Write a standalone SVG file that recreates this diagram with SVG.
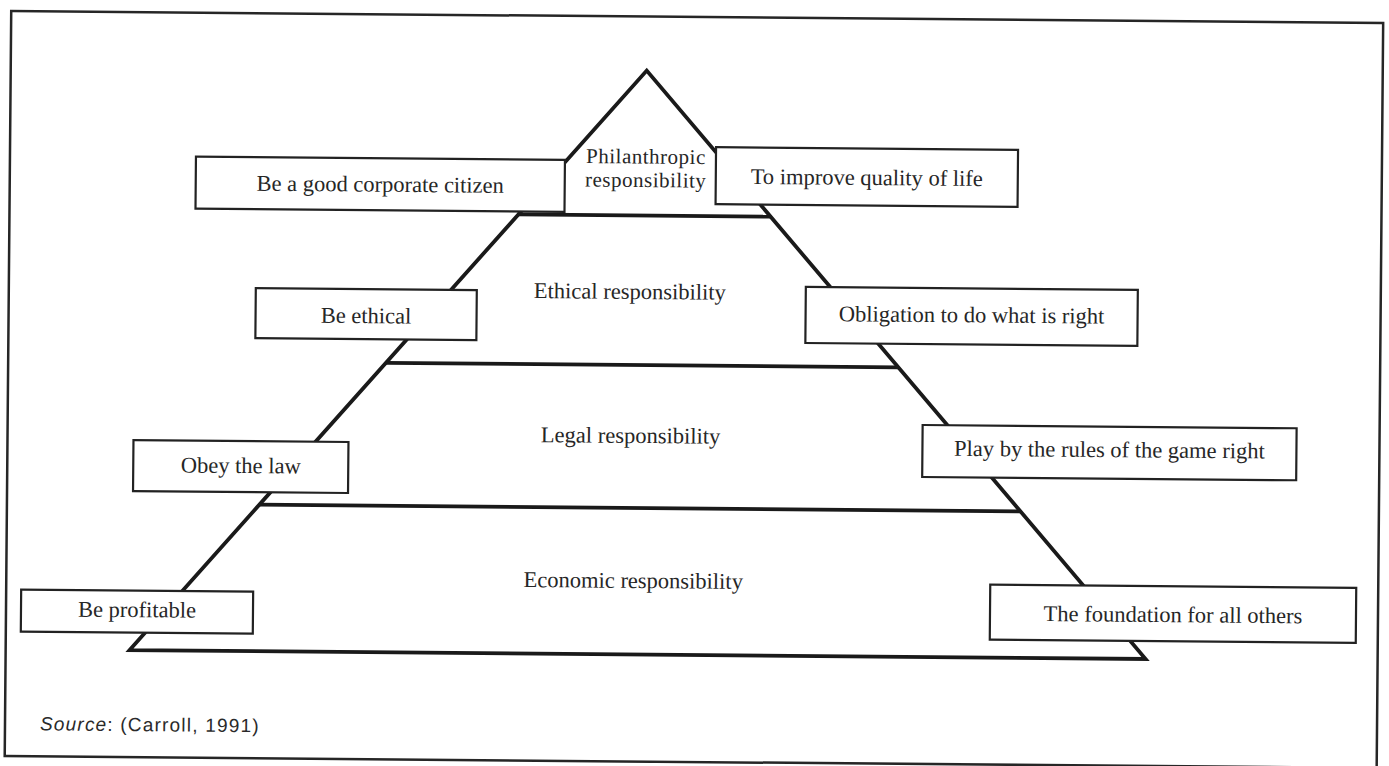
<svg xmlns="http://www.w3.org/2000/svg" width="1389" height="766" viewBox="0 0 1389 766">
  <style>
    .frame { fill: none; stroke: #262626; stroke-width: 2.5; }
    .edge { fill: none; stroke: #1a1a1a; stroke-width: 3.8; stroke-linejoin: miter; }
    .level { fill: none; stroke: #1a1a1a; stroke-width: 3.8; }
    .box { fill: #ffffff; stroke: #222222; stroke-width: 2.2; }
    .lbl { font-family: "Liberation Serif", "Times New Roman", serif; font-size: 22.5px; fill: #262626; text-anchor: middle; }
    .apex { font-size: 21px; letter-spacing: 0.5px; }
    .src { font-family: "Liberation Sans", Arial, sans-serif; font-size: 19px; letter-spacing: 1.2px; fill: #2a2a2a; }
  </style>
  <rect width="1389" height="766" fill="#ffffff"/>
  <!-- the whole page sits slightly askew -->
  <g transform="rotate(0.5 694 383)">
    <rect class="frame" x="8" y="17" width="1372" height="745"/>

    <!-- pyramid outline and tier dividers -->
    <g id="pyramid">
      <path class="edge" d="M 132 655 L 644 71 L 1148 655 Z"/>
      <line class="level" x1="516" y1="216" x2="770" y2="216"/>
      <line class="level" x1="386" y1="365.5" x2="898" y2="365.5"/>
      <line class="level" x1="260" y1="508.5" x2="1022" y2="508.5"/>
    </g>

    <!-- tier labels -->
    <g id="tier-philanthropic">
      <text class="lbl apex" x="644" y="164">Philanthropic</text>
      <text class="lbl apex" x="644" y="187.5">responsibility</text>
    </g>
    <g id="tier-ethical">
      <text class="lbl" x="629" y="299.5">Ethical responsibility</text>
    </g>
    <g id="tier-legal">
      <text class="lbl" x="631" y="443.5">Legal responsibility</text>
    </g>
    <g id="tier-economic">
      <text class="lbl" x="635" y="588.5">Economic responsibility</text>
    </g>

    <!-- side statements -->
    <g id="node-citizen">
      <rect class="box" x="194" y="161" width="369" height="52"/>
      <text class="lbl" x="378.5" y="194.5">Be a good corporate citizen</text>
    </g>
    <g id="node-quality">
      <rect class="box" x="714" y="147" width="302" height="57"/>
      <text class="lbl" x="865" y="183.5">To improve quality of life</text>
    </g>
    <g id="node-ethical">
      <rect class="box" x="255" y="292" width="221" height="50"/>
      <text class="lbl" x="365.5" y="326">Be ethical</text>
    </g>
    <g id="node-right">
      <rect class="box" x="805" y="286" width="332" height="56"/>
      <text class="lbl" x="971" y="320">Obligation to do what is right</text>
    </g>
    <g id="node-law">
      <rect class="box" x="134" y="445" width="215" height="51"/>
      <text class="lbl" x="241.5" y="477">Obey the law</text>
    </g>
    <g id="node-rules">
      <rect class="box" x="923" y="423" width="374" height="52"/>
      <text class="lbl" x="1110" y="453.5">Play by the rules of the game right</text>
    </g>
    <g id="node-profitable">
      <rect class="box" x="23" y="595.5" width="232" height="42"/>
      <text class="lbl" x="139" y="622">Be profitable</text>
    </g>
    <g id="node-foundation">
      <rect class="box" x="992" y="582" width="366" height="55"/>
      <text class="lbl" x="1175" y="618">The foundation for all others</text>
    </g>

    <text class="src" x="43" y="736"><tspan font-style="italic">Source</tspan>: (Carroll,  1991)</text>
  </g>
</svg>
